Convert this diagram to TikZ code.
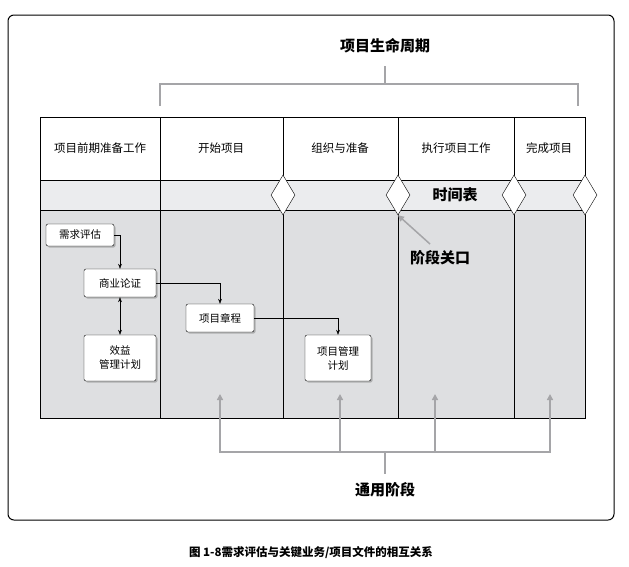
\documentclass[tikz,border=0pt]{standalone}
\usepackage{fontspec}
\setmainfont{Noto Sans CJK SC}
\usetikzlibrary{arrows.meta,shapes.geometric,shadows}
\definecolor{bandgray}{RGB}{235,236,238}
\definecolor{bodygray}{RGB}{222,223,225}
\definecolor{linegray}{RGB}{165,165,168}
\begin{document}
\begin{tikzpicture}
  [x=1pt,y=-1pt,
   docbox/.style={draw,rounded corners=2pt,fill=white,align=center,font=\fontsize{10.5}{14}\selectfont,inner sep=3pt,
     drop shadow={shadow xshift=1.5pt,shadow yshift=-1.5pt,fill=gray}},
   gate/.style={diamond,draw,fill=white,minimum width=24pt,minimum height=40pt,inner sep=0pt},
   link/.style={-{Stealth[length=5pt]}},
   grayarrow/.style={draw=linegray,fill=linegray,line width=2pt,-{Triangle[length=6pt,width=6pt]}},
   bold/.style={font=\bfseries\fontsize{15}{17}\selectfont}]
  \useasboundingbox (0,0) rectangle (629,566);
  \draw[rounded corners=6pt,line width=1pt] (8,15) rectangle (614,520);
  % title and bracket
  \node[bold] (life) at (385,46) {项目生命周期};
  \draw[linegray,line width=2pt] (160,106) -- (160,84) -- (578,84) -- (578,106);
  \draw[linegray,line width=2pt] (385,84) -- (385,66);
  % table
  \fill[bodygray] (40,210) rectangle (585,418);
  \fill[bandgray] (40,180) rectangle (585,210);
  \draw (40,117) rectangle (585,418);
  \draw (40,180) -- (585,180) (40,210) -- (585,210);
  \foreach \x in {160,283,398,514} \draw (\x,117) -- (\x,418);
  \foreach \x/\t in {100/项目前期准备工作,221/开始项目,340/组织与准备,456/执行项目工作,549/完成项目}
    \node[font=\fontsize{11.5}{13}\selectfont] at (\x,148) {\t};
  \node[gate] (g1) at (283,195) {};
  \node[gate] (g2) at (398,195) {};
  \node[gate] (g3) at (514,195) {};
  \node[gate] (g4) at (585,195) {};
  \node[bold] (sched) at (455,195) {时间表};
  \node[bold] (gatelbl) at (440,258) {阶段关口};
  \draw[grayarrow,line width=1.5pt] (430,244) -- (g2.south);
  % documents
  \node[docbox,minimum width=68pt,minimum height=22pt] (need) at (80,235) {需求评估};
  \node[docbox,minimum width=72pt,minimum height=28pt] (biz) at (120,283) {商业论证};
  \node[docbox,minimum width=72pt,minimum height=46pt] (ben) at (120,358) {效益\\管理计划};
  \node[docbox,minimum width=68pt,minimum height=28pt] (charter) at (220,318) {项目章程};
  \node[docbox,minimum width=66pt,minimum height=46pt] (pmp) at (338,358) {项目管理\\计划};
  \draw[link] (need.east) -| (biz.north);
  \draw[{Stealth[length=5pt]}-{Stealth[length=5pt]}] (biz.south) -- (ben.north);
  \draw[link] (biz.east) -| (charter.north);
  \draw[link] (charter.east) -| (pmp.north);
  % common phases
  \coordinate (hub) at (385,452);
  \draw[linegray,line width=2pt] (220,452) -- (550,452) (hub) -- (385,474);
  \foreach \x in {220,340,435,550} \draw[grayarrow] (\x,453) -- (\x,394);
  \node[bold] (common) at (385,490) {通用阶段};
  \node[font=\bfseries\fontsize{11.5}{13}\selectfont] (cap) at (311,553) {图 1-8需求评估与关键业务/项目文件的相互关系};
\end{tikzpicture}
\end{document}
